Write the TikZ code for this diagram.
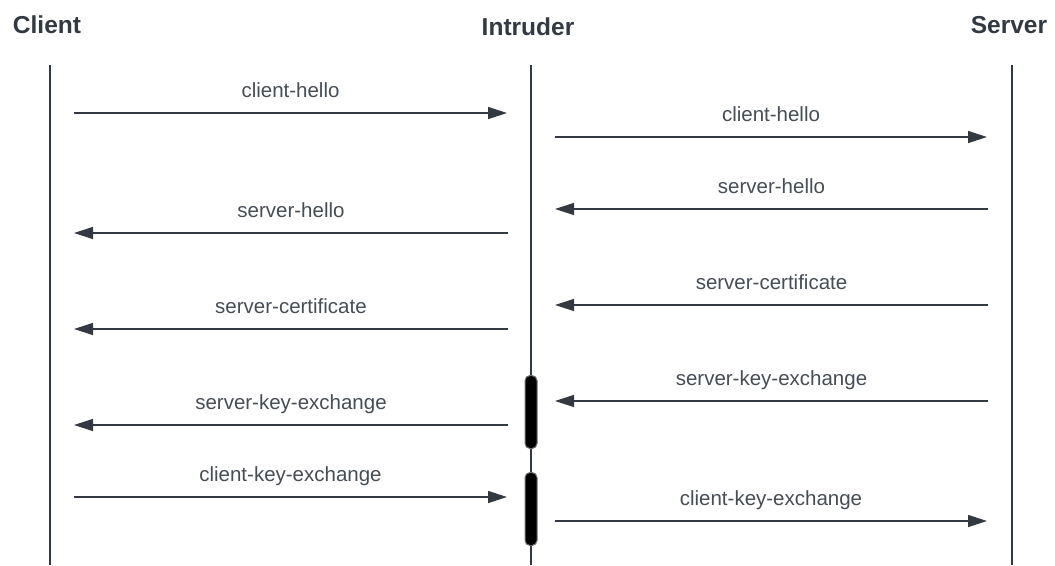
\documentclass[tikz,border=0pt]{standalone}
\usepackage{fontspec}
\setmainfont{Liberation Sans}
\usetikzlibrary{arrows.meta}
\definecolor{ink}{HTML}{333942}
\begin{document}
\begin{tikzpicture}[x=1pt,y=-1pt,
  title/.style={font=\fontsize{24.5}{28}\selectfont\bfseries, text=ink, anchor=base, inner sep=0pt},
  lbl/.style={font=\fontsize{20.5}{24}\selectfont, text=ink!90, anchor=base, inner sep=0pt},
  life/.style={draw=ink, line width=2pt},
  msg/.style={draw=ink, line width=1.2pt, -{Triangle[length=19pt,width=12pt]}},
  act/.style={fill=black, draw=black!55, line width=1pt, rounded corners=5pt}]
\useasboundingbox (0,0) rectangle (1055,565);
\node[title] (client) at (47,33) {Client};
\node[title] (intruder) at (528,35) {Intruder};
\node[title] (server) at (1009,33) {Server};
\coordinate (ct) at (50,65); \coordinate (cb) at (50,565);
\coordinate (it) at (531,65); \coordinate (ib) at (531,565);
\coordinate (st) at (1012,65); \coordinate (sb) at (1012,565);
\draw[life] (ct) -- (cb);
\draw[life] (it) -- (ib);
\draw[life] (st) -- (sb);
\node[act, minimum width=12pt, minimum height=73pt, inner sep=0pt] (act1) at (531,412) {};
\node[act, minimum width=12pt, minimum height=73pt, inner sep=0pt] (act2) at (531,509) {};
% messages
\coordinate (a1s) at (74,113); \coordinate (a1e) at (507,113);
\draw[msg] (a1s) -- node[lbl, yshift=16pt] (l1) {client-hello} (a1e);
\coordinate (a2s) at (555,137); \coordinate (a2e) at (987,137);
\draw[msg] (a2s) -- node[lbl, yshift=16pt] (l2) {client-hello} (a2e);
\coordinate (a3s) at (988,209); \coordinate (a3e) at (555,209);
\draw[msg] (a3s) -- node[lbl, yshift=16pt] (l3) {server-hello} (a3e);
\coordinate (a4s) at (508,233); \coordinate (a4e) at (74,233);
\draw[msg] (a4s) -- node[lbl, yshift=16pt] (l4) {server-hello} (a4e);
\coordinate (a5s) at (988,305); \coordinate (a5e) at (555,305);
\draw[msg] (a5s) -- node[lbl, yshift=16pt] (l5) {server-certificate} (a5e);
\coordinate (a6s) at (508,329); \coordinate (a6e) at (74,329);
\draw[msg] (a6s) -- node[lbl, yshift=16pt] (l6) {server-certificate} (a6e);
\coordinate (a7s) at (988,401); \coordinate (a7e) at (555,401);
\draw[msg] (a7s) -- node[lbl, yshift=16pt] (l7) {server-key-exchange} (a7e);
\coordinate (a8s) at (508,425); \coordinate (a8e) at (74,425);
\draw[msg] (a8s) -- node[lbl, yshift=16pt] (l8) {server-key-exchange} (a8e);
\coordinate (a9s) at (74,497); \coordinate (a9e) at (507,497);
\draw[msg] (a9s) -- node[lbl, yshift=16pt] (l9) {client-key-exchange} (a9e);
\coordinate (a10s) at (555,521); \coordinate (a10e) at (987,521);
\draw[msg] (a10s) -- node[lbl, yshift=16pt] (l10) {client-key-exchange} (a10e);
\end{tikzpicture}
\end{document}
